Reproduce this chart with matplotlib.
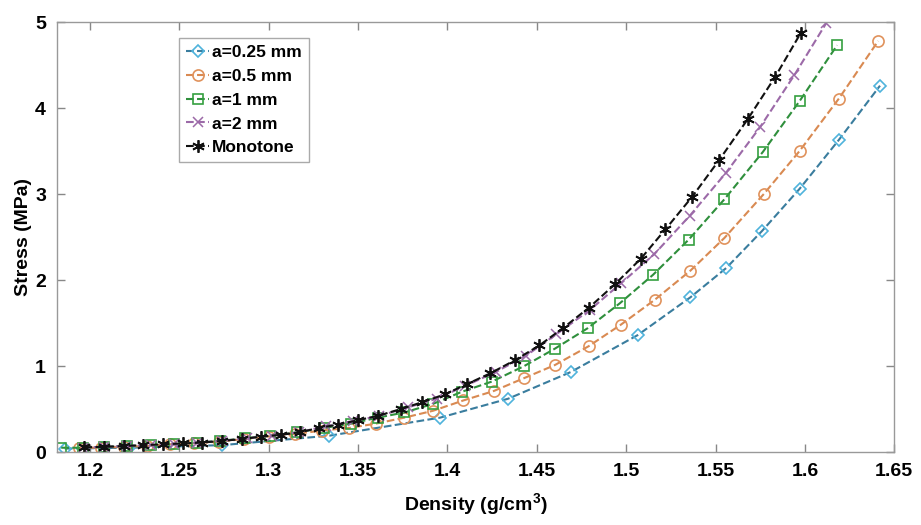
import matplotlib
matplotlib.use('Agg')
import matplotlib.pyplot as plt

plt.rcParams['font.family'] = ['Liberation Sans', 'DejaVu Sans']
plt.rcParams['mathtext.fontset'] = 'custom'
plt.rcParams['mathtext.bf'] = 'Liberation Sans:bold'
plt.rcParams['mathtext.rm'] = 'Liberation Sans:bold'

# a = 0.25 mm
d1 = [1.186, 1.222, 1.274, 1.334, 1.396, 1.434, 1.469, 1.5065, 1.536, 1.556, 1.576, 1.597, 1.619, 1.642]
s1 = [0.04, 0.05, 0.08, 0.19, 0.40, 0.62, 0.93, 1.36, 1.80, 2.14, 2.57, 3.06, 3.63, 4.26]

# a = 0.5 mm
d2 = [1.194, 1.206, 1.219, 1.232, 1.245, 1.258, 1.272, 1.286, 1.300, 1.315, 1.330, 1.345, 1.360, 1.376,
      1.392, 1.409, 1.426, 1.443, 1.460, 1.479, 1.497, 1.516, 1.536, 1.555, 1.577, 1.597, 1.619, 1.641]
s2 = [0.05, 0.05, 0.06, 0.07, 0.09, 0.10, 0.12, 0.15, 0.18, 0.21, 0.25, 0.28, 0.33, 0.40,
      0.48, 0.60, 0.71, 0.86, 1.01, 1.23, 1.48, 1.77, 2.11, 2.49, 3.00, 3.50, 4.11, 4.78]

# a = 1 mm
d3 = [1.184, 1.196, 1.208, 1.221, 1.234, 1.247, 1.260, 1.273, 1.287, 1.301, 1.316, 1.331, 1.346, 1.361,
      1.376, 1.392, 1.408, 1.425, 1.443, 1.460, 1.4785, 1.4965, 1.515, 1.535, 1.555, 1.5765, 1.597, 1.618]
s3 = [0.05, 0.05, 0.06, 0.07, 0.08, 0.09, 0.11, 0.13, 0.16, 0.19, 0.23, 0.28, 0.33, 0.40,
      0.46, 0.56, 0.70, 0.82, 1.00, 1.20, 1.44, 1.73, 2.06, 2.47, 2.94, 3.49, 4.08, 4.73]

# a = 2 mm
d4 = [1.196, 1.208, 1.221, 1.234, 1.247, 1.260, 1.274, 1.288, 1.302, 1.317, 1.332, 1.347, 1.362, 1.378,
      1.394, 1.410, 1.427, 1.444, 1.461, 1.4796, 1.497, 1.5157, 1.5357, 1.5556, 1.575, 1.594, 1.612]
s4 = [0.05, 0.06, 0.07, 0.08, 0.09, 0.11, 0.13, 0.16, 0.19, 0.23, 0.30, 0.36, 0.42, 0.52,
      0.62, 0.77, 0.93, 1.12, 1.37, 1.65, 1.96, 2.30, 2.75, 3.24, 3.78, 4.38, 4.99]

# Monotone
d5 = [1.197, 1.208, 1.219, 1.230, 1.241, 1.252, 1.263, 1.274, 1.285, 1.296, 1.307, 1.3176, 1.328, 1.339,
      1.350, 1.361, 1.374, 1.386, 1.3985, 1.411, 1.424, 1.438, 1.4515, 1.4646, 1.4793, 1.4937, 1.5083,
      1.522, 1.537, 1.5522, 1.568, 1.5833, 1.5976]
s5 = [0.055, 0.06, 0.07, 0.08, 0.09, 0.10, 0.11, 0.13, 0.15, 0.18, 0.20, 0.23, 0.28, 0.32,
      0.37, 0.42, 0.50, 0.58, 0.67, 0.79, 0.915, 1.07, 1.24, 1.44, 1.68, 1.95, 2.25,
      2.59, 2.97, 3.40, 3.87, 4.36, 4.87]

labels = ['a=0.25 mm', 'a=0.5 mm', 'a=1 mm', 'a=2 mm', 'Monotone']

fig = plt.figure(figsize=(9.21, 5.25), dpi=100)
ax = fig.add_axes([0.062, 0.139, 0.909, 0.819])

ax.plot(d1, s1, ls='--', color='#3a7d9e', lw=1.5, marker='D', ms=6.5, mfc='none', mec='#4fb3dc', mew=1.2, label=labels[0])
ax.plot(d2, s2, ls='--', color='#d98a52', lw=1.5, marker='o', ms=8, mfc='none', mec='#e0925c', mew=1.2, label=labels[1])
ax.plot(d3, s3, ls='--', color='#2f8f3c', lw=1.5, marker='s', ms=7, mfc='none', mec='#35a040', mew=1.2, label=labels[2])
ax.plot(d4, s4, ls='--', color='#9c6aa8', lw=1.5, marker='x', ms=7, mfc='none', mec='#9c6aa8', mew=1.1, label=labels[3])
ax.plot(d5, s5, ls='--', color='#111111', lw=1.5, marker=(6, 2, 0), ms=9, mec='#111111', mew=1.3, label=labels[4])

ax.set_xlim(1.1817, 1.65)
ax.set_ylim(0, 5)
ax.set_xticks([1.2, 1.25, 1.3, 1.35, 1.4, 1.45, 1.5, 1.55, 1.6, 1.65])
ax.set_xticklabels(['1.2', '1.25', '1.3', '1.35', '1.4', '1.45', '1.5', '1.55', '1.6', '1.65'])
ax.set_yticks([0, 1, 2, 3, 4, 5])
ax.tick_params(direction='in', top=True, right=True, length=6, width=1, color='#888888',
               labelsize=14, pad=8)
for lbl in ax.get_xticklabels() + ax.get_yticklabels():
    lbl.set_fontweight('bold')
for sp in ax.spines.values():
    sp.set_color('#999999')
    sp.set_linewidth(1)

ax.set_xlabel(r'Density (g/cm$^\mathbf{3}$)', fontsize=14, fontweight='bold', labelpad=8)
ax.set_ylabel('Stress (MPa)', fontsize=14, fontweight='bold', labelpad=2)

leg = ax.legend(loc='upper left', bbox_to_anchor=(0.146, 0.963), borderaxespad=0,
                prop={'size': 12.5, 'weight': 'bold'},
                handlelength=1.3, handletextpad=0.2, labelspacing=0.5, borderpad=0.4,
                fancybox=False, framealpha=1)
leg.get_frame().set_edgecolor('#aaaaaa')
leg.get_frame().set_linewidth(1)

fig.savefig('out.png', dpi=100)
